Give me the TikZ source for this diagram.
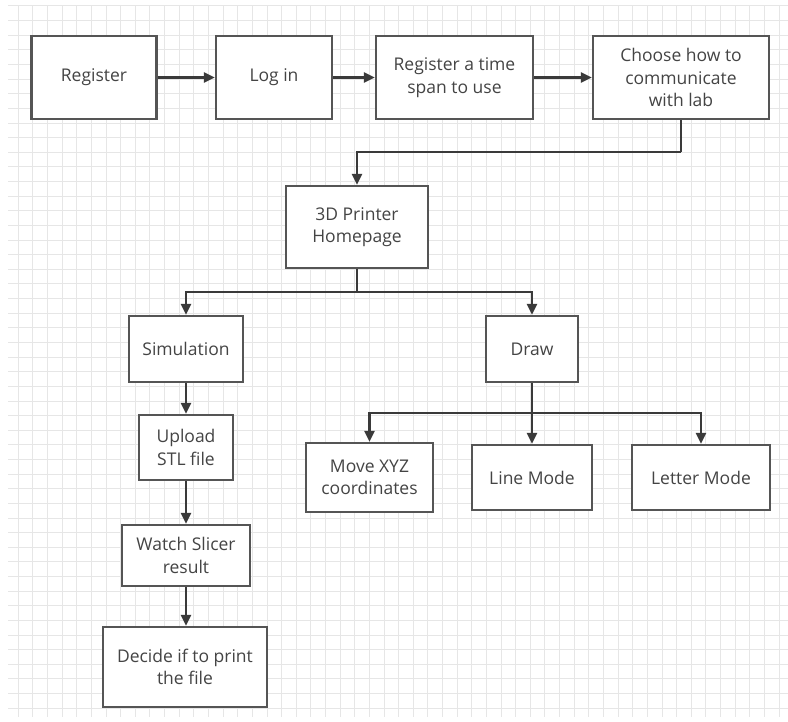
\documentclass[tikz,border=0pt]{standalone}
\usepackage{fontspec}
\setmainfont{Open Sans}
\usetikzlibrary{arrows.meta}
\definecolor{gridc}{HTML}{E6E6E6}
\definecolor{boxc}{HTML}{555555}
\definecolor{linec}{HTML}{3A3A3A}
\definecolor{txtc}{HTML}{444444}
\begin{document}
\begin{tikzpicture}[x=1pt,y=-1pt,
  box/.style={draw=boxc,line width=2.3pt,fill=white,rectangle,inner sep=2pt,
    align=center,text=txtc,font=\fontsize{17.5}{22.5}\selectfont},
  arr/.style={draw=linec,line width=2.2pt,-{Triangle[length=11pt,width=10pt]}},
  ln/.style={draw=linec,line width=2.2pt}]
\useasboundingbox (0,0) rectangle (788,722);
\fill[white] (0,0) rectangle (788,722);
% grid
\foreach \i in {0,...,52} {
  \draw[gridc,line width=1pt] (18.3+\i*14.63,6) -- (18.3+\i*14.63,717);
}
\foreach \j in {0,...,48} {
  \draw[gridc,line width=1pt] (8,6+\j*14.63) -- (788,6+\j*14.63);
}
% nodes
\node[box,minimum width=125pt,minimum height=83pt] (reg) at (94,77.5) {Register};
\node[box,minimum width=116pt,minimum height=83pt] (login) at (274,77.5) {Log in};
\node[box,minimum width=157pt,minimum height=83pt] (span) at (454.5,77.5) {Register a time\\span to use};
\node[box,minimum width=176pt,minimum height=83pt] (comm) at (681,77.5) {Choose how to\\communicate\\with lab};
\node[box,minimum width=142pt,minimum height=82pt] (home) at (357,227) {3D Printer\\Homepage};
\node[box,minimum width=114pt,minimum height=66pt] (sim) at (186,349) {Simulation};
\node[box,minimum width=92pt,minimum height=66pt] (drw) at (532,349) {Draw};
\node[box,minimum width=94pt,minimum height=65pt] (upl) at (186,447.5) {Upload\\STL file};
\node[box,minimum width=128pt,minimum height=61pt] (watch) at (186,555.5) {Watch Slicer\\result};
\node[box,minimum width=164pt,minimum height=80pt] (dec) at (185,667) {Decide if to print\\the file};
\node[box,minimum width=127pt,minimum height=69pt] (move) at (369.5,477.5) {Move XYZ\\coordinates};
\node[box,minimum width=120pt,minimum height=65pt] (linem) at (532,477.5) {Line Mode};
\node[box,minimum width=138pt,minimum height=65pt] (letm) at (701,477.5) {Letter Mode};
% junctions
\coordinate (j1) at (681,152);
\coordinate (j2) at (357,292);
\coordinate (j3) at (532,413);
% connectors
\draw[arr] (reg) -- (login);
\draw[arr] (login) -- (span);
\draw[arr] (span) -- (comm);
\draw[ln] (comm.south) -- (j1);
\draw[arr] (j1) -| (home.north);
\draw[ln] (home.south) -- (j2);
\draw[arr] (j2) -| (sim.north);
\draw[arr] (j2) -| (drw.north);
\draw[arr] (sim) -- (upl);
\draw[arr] (upl) -- (watch);
\draw[arr] (watch.south) -- (watch.south |- dec.north);
\draw[arr] (drw.south) -- (linem.north);
\draw[arr] (j3) -| (move.north);
\draw[arr] (j3) -| (letm.north);
\end{tikzpicture}
\end{document}
